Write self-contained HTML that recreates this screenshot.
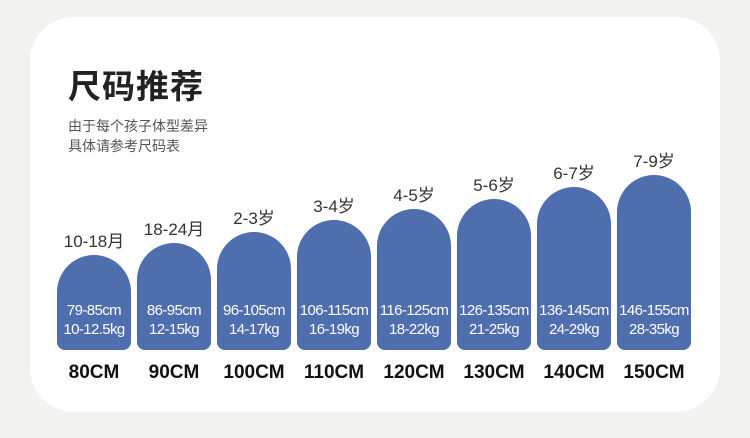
<!DOCTYPE html><html><head><meta charset="utf-8"><style>
body{margin:0;width:750px;height:438px;background:#f2f2f1;position:relative;overflow:hidden;font-family:"Liberation Sans","Noto Sans CJK SC",sans-serif}
.card{position:absolute;left:30px;top:17px;width:690px;height:395px;background:#fff;border-radius:44px}
.t{position:absolute;left:68px;top:60px;font-size:33px;font-weight:bold;color:#222;letter-spacing:1px}
.s{position:absolute;left:68px;top:116px;font-size:14px;line-height:20px;color:#555}
.b{position:absolute;width:74px;bottom:88px;background:#4e6eae;border-radius:37px 37px 8px 8px}
.in{position:absolute;left:-6px;right:-6px;bottom:11px;color:#fff;font-size:15px;line-height:19px;text-align:center;letter-spacing:-0.6px}
.a{position:absolute;width:90px;text-align:center;font-size:17px;color:#333}
.c{position:absolute;width:90px;text-align:center;font-size:19px;font-weight:bold;color:#111;top:362px}
</style></head><body><div class="card"></div>
<div class="t">尺码推荐</div>
<div class="s">由于每个孩子体型差异<br>具体请参考尺码表</div>
<div id="w"></div>
<script>
var tops=[255,243,232,220,209,199,187,175],
ages=["10-18月","18-24月","2-3岁","3-4岁","4-5岁","5-6岁","6-7岁","7-9岁"],
h=["79-85cm","86-95cm","96-105cm","106-115cm","116-125cm","126-135cm","136-145cm","146-155cm"],
w=["10-12.5kg","12-15kg","14-17kg","16-19kg","18-22kg","21-25kg","24-29kg","28-35kg"],s="";
for(var i=0;i<8;i++){var x=57+80*i;
s+='<div class="b" style="left:'+x+'px;top:'+tops[i]+'px;height:'+(350-tops[i])+'px"><div class="in">'+h[i]+'<br>'+w[i]+'</div></div>';
s+='<div class="a" style="left:'+(x-8)+'px;top:'+(tops[i]-28)+'px">'+ages[i]+'</div>';
s+='<div class="c" style="left:'+(x-8)+'px">'+(80+10*i)+'CM</div>';}
document.getElementById("w").innerHTML=s;
</script></body></html>
